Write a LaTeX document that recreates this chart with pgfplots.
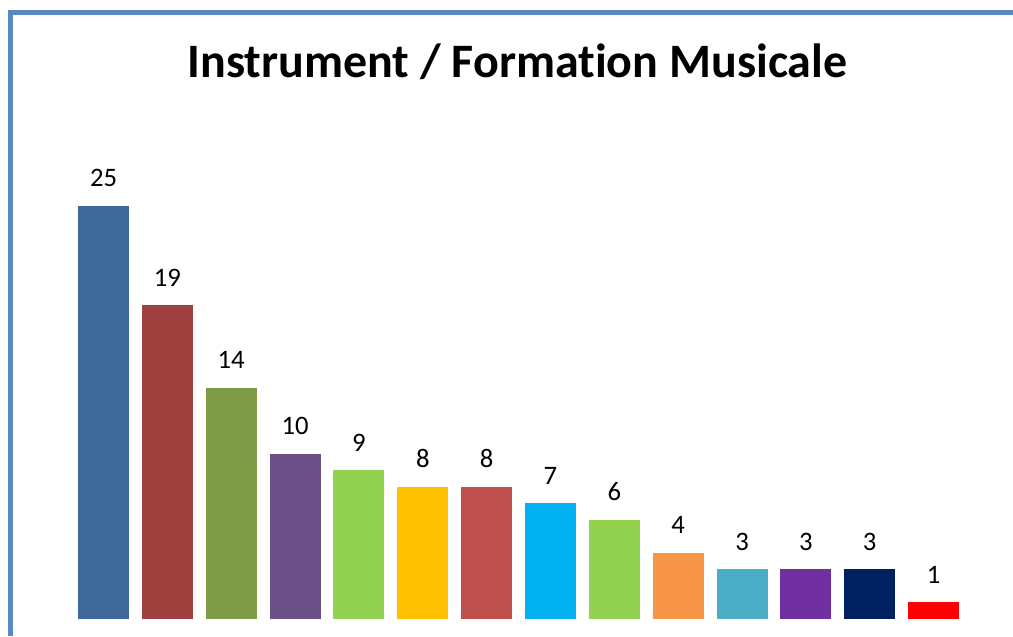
\documentclass[border=0pt]{standalone}
\usepackage{fontspec}
\setmainfont[Ligatures=NoCommon]{Carlito}
\usepackage{pgfplots}
\pgfplotsset{compat=1.18}

\definecolor{frame}{HTML}{5A88C2}
\definecolor{c1}{HTML}{3F699B}
\definecolor{c2}{HTML}{9E413E}
\definecolor{c3}{HTML}{7F9B48}
\definecolor{c4}{HTML}{6A5087}
\definecolor{c5}{HTML}{92D050}
\definecolor{c6}{HTML}{FFC000}
\definecolor{c7}{HTML}{C0504D}
\definecolor{c8}{HTML}{00B0F0}
\definecolor{c9}{HTML}{92D050}
\definecolor{c10}{HTML}{F79646}
\definecolor{c11}{HTML}{4BACC6}
\definecolor{c12}{HTML}{7030A0}
\definecolor{c13}{HTML}{002060}
\definecolor{c14}{HTML}{FF0000}

\begin{document}
\begin{tikzpicture}
\path[use as bounding box] (0,0) rectangle (759.75pt,477pt);
% frame (left and top edges only)
\draw[frame, line width=3.75pt] (7.5pt,0) -- (7.5pt,467.25pt) -- (759.75pt,467.25pt);

\node[anchor=base, font=\bfseries\fontsize{36}{42}\selectfont] at (388.1pt,418.5pt)
  {Instrument / Formation Musicale};

\begin{axis}[
   at={(53.7pt,12.75pt)}, anchor=south west,
   scale only axis,
   width=670.4pt, height=309.75pt,
   xmin=-0.5, xmax=13.5,
   ymin=0, ymax=25,
   hide axis,
   clip=false,
   ybar, bar width=38.25pt, bar shift=0pt,
   nodes near coords,
   every node near coord/.append style={anchor=base, yshift=14.25pt,
      font=\fontsize{20}{24}\selectfont, text=black},
   /pgf/number format/assume math mode=true,
   every axis plot/.append style={draw=none},
]
\addplot[fill=c1]  coordinates {(0,25)};
\addplot[fill=c2]  coordinates {(1,19)};
\addplot[fill=c3]  coordinates {(2,14)};
\addplot[fill=c4]  coordinates {(3,10)};
\addplot[fill=c5]  coordinates {(4,9)};
\addplot[fill=c6]  coordinates {(5,8)};
\addplot[fill=c7]  coordinates {(6,8)};
\addplot[fill=c8]  coordinates {(7,7)};
\addplot[fill=c9]  coordinates {(8,6)};
\addplot[fill=c10] coordinates {(9,4)};
\addplot[fill=c11] coordinates {(10,3)};
\addplot[fill=c12] coordinates {(11,3)};
\addplot[fill=c13] coordinates {(12,3)};
\addplot[fill=c14] coordinates {(13,1)};
\end{axis}
\end{tikzpicture}
\end{document}
